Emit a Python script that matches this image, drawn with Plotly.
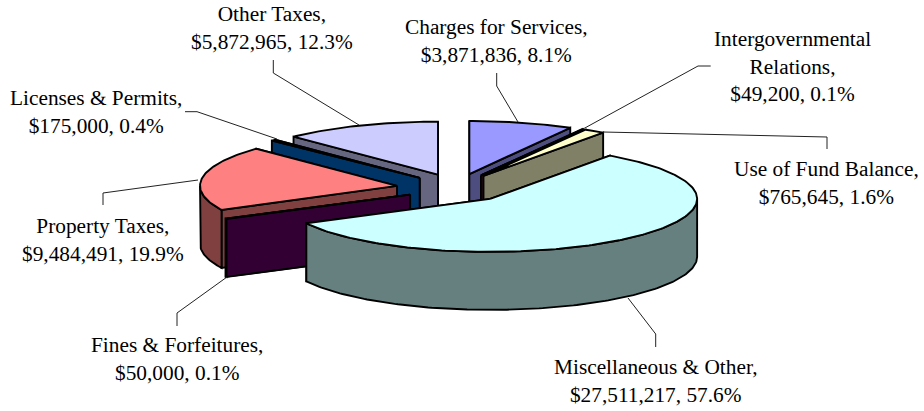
import math
import plotly.graph_objects as go

# ---- data (clockwise from 12 o'clock) ----
categories = ["Charges for Services,", "Intergovernmental<br>Relations,", "Use of Fund Balance,",
              "Miscellaneous & Other,", "Fines & Forfeitures,", "Property Taxes,",
              "Licenses & Permits,", "Other Taxes,"]
values = [3871836, 49200, 765645, 27511217, 50000, 9484491, 175000, 5872965]
value_labels = ["$3,871,836", "$49,200", "$765,645", "$27,511,217", "$50,000", "$9,484,491", "$175,000", "$5,872,965"]
percent_labels = ["8.1%", "0.1%", "1.6%", "57.6%", "0.1%", "19.9%", "0.4%", "12.3%"]

# ---- styles ----
top_colors = ["#9999FF", "#993366", "#FFFFCC", "#CCFFFF", "#660066", "#FF8080", "#0066CC", "#CCCCFF"]
wall_colors = ["#4D4D80", "#4D1A33", "#808066", "#668080", "#330033", "#804040", "#003366", "#666680"]
draw_order = [7, 6, 5, 4, 0, 1, 2, 3]

# ---- projection of the exploded 3-D pie ----
CX, CY = 454.0, 188.0
RX, RY, DEPTH = 207.0, 53.0, 58.0
EXPLODE_X, EXPLODE_Y = 55.0, 14.4
RX_BY_SLICE = {5: 197.0}
SHIFT_X = {0: 1.5, 4: 5.0, 5: -2.6, 6: 4.5, 7: 4.7}
EDGE = 1.9

# label centre x / top y, and leader paths
label_pos = [(496, 14), (792, 26), (826, 156), (656, 354), (177, 332), (103, 213), (96, 85), (272, 1)]
leaders = [
    [(496.7, 73), (496.7, 86), (518, 122)],
    [(710.7, 66), (698, 66), (583, 129)],
    [(827, 149), (827, 137), (603, 132)],
    [(655.7, 347), (655.7, 334), (628, 298)],
    [(177, 326), (177, 313), (227, 277)],
    [(103, 205), (103, 193), (198, 180)],
    [(185, 111.7), (197, 111.7), (277, 139)],
    [(273.3, 60), (273.3, 73), (359, 125)],
]

fig = go.Figure()


def poly(points, fill):
    xs = [p[0] for p in points] + [points[0][0]]
    ys = [p[1] for p in points] + [points[0][1]]
    fig.add_trace(go.Scatter(x=xs, y=ys, mode="lines", fill="toself", fillcolor=fill,
                             line=dict(color="#000000", width=EDGE), hoverinfo="skip", showlegend=False))


total = sum(values)
spans = []
acc = 0.0
for v in values:
    spans.append((acc / total * 2 * math.pi, (acc + v) / total * 2 * math.pi))
    acc += v


def arc(a0, a1, ax, ay, rx, dy=0.0):
    n = max(2, int(abs(a1 - a0) / math.radians(1)) + 1)
    return [(ax + rx * math.sin(a0 + (a1 - a0) * k / (n - 1)),
             ay - RY * math.cos(a0 + (a1 - a0) * k / (n - 1)) + dy) for k in range(n)]


for i in draw_order:
    a0, a1 = spans[i]
    mid = (a0 + a1) / 2
    ax = CX + EXPLODE_X * math.sin(mid) + SHIFT_X.get(i, 0.0)
    ay = CY - EXPLODE_Y * math.cos(mid)
    rx = RX_BY_SLICE.get(i, RX)
    ends = sorted((arc(a, a, ax, ay, rx)[0] for a in (a0, a1)), key=lambda p: p[1])
    for e in ends:  # the wall further back first
        poly([(ax, ay), e, (e[0], e[1] + DEPTH), (ax, ay + DEPTH)], wall_colors[i])
    f0, f1 = max(a0, math.pi / 2), min(a1, 1.5 * math.pi)
    if f1 > f0:
        poly(arc(f0, f1, ax, ay, rx) + arc(f1, f0, ax, ay, rx, DEPTH), wall_colors[i])
    poly([(ax, ay)] + arc(a0, a1, ax, ay, rx), top_colors[i])

for path in leaders:
    fig.add_trace(go.Scatter(x=[p[0] for p in path], y=[p[1] for p in path], mode="lines",
                             line=dict(color="#222222", width=1), hoverinfo="skip", showlegend=False))

annotations = []
for name, val, pct, (x, y) in zip(categories, value_labels, percent_labels, label_pos):
    annotations.append(dict(x=x, y=y, xref="x", yref="y", xanchor="center", yanchor="top",
                            text=f"{name}<br>{val}, {pct}", showarrow=False, align="center", borderpad=0,
                            font=dict(family="Liberation Serif", size=21.33, color="#000000")))

fig.update_layout(width=924, height=411, margin=dict(l=0, r=0, t=0, b=0),
                  paper_bgcolor="#FFFFFF", plot_bgcolor="#FFFFFF", annotations=annotations, showlegend=False,
                  xaxis=dict(range=[0, 924], visible=False, fixedrange=True),
                  yaxis=dict(range=[411, 0], visible=False, fixedrange=True))
fig.write_html("out.html", config=dict(displayModeBar=False),
               post_script="document.body.style.margin='0';document.documentElement.style.overflow='hidden';")
